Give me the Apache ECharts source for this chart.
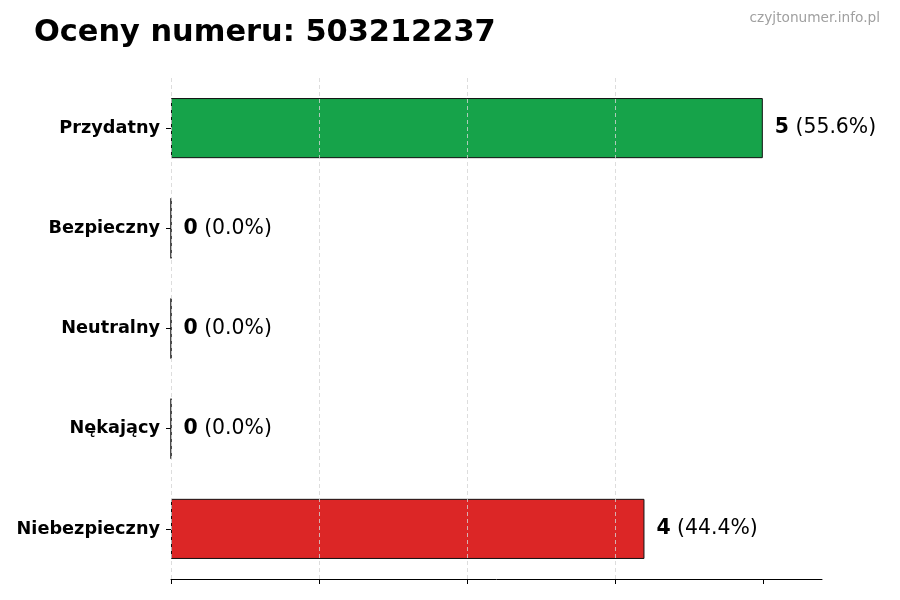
<!DOCTYPE html>
<html>
<head>
<meta charset="utf-8">
<script src="https://cdn.jsdelivr.net/npm/echarts@6/dist/echarts.min.js"></script>
<style>
  html, body { margin: 0; padding: 0; background: #fff; }
  #main { width: 900px; height: 600px; }
</style>
</head>
<body>
<div id="main"></div>
<script>
// dane wykresu
var categories = ['Przydatny', 'Bezpieczny', 'Neutralny', 'Nękający', 'Niebezpieczny'];
var counts = [5, 0, 0, 0, 4];
var percents = ['55.6%', '0.0%', '0.0%', '0.0%', '44.4%'];
var barColors = ['#16a34a', '#16a34a', '#6b7280', '#dc2626', '#dc2626'];
var xTicks = [0, 1.25, 2.5, 3.75, 5];

var chart = echarts.init(document.getElementById('main'));

var barData = counts.map(function (v, i) {
  return {
    value: v,
    itemStyle: { color: barColors[i] }
  };
});

var option = {
  backgroundColor: '#fff',
  textStyle: { fontFamily: 'DejaVu Sans' },
  title: [
    {
      text: 'Oceny numeru: 503212237',
      left: 29,
      top: 13,
      textStyle: { fontSize: 30.4, fontWeight: 'bold', color: '#000', fontFamily: 'DejaVu Sans' }
    },
    {
      text: 'czyjtonumer.info.pl',
      right: 15,
      top: 6,
      textStyle: { fontSize: 13.7, fontWeight: 'normal', color: '#a0a0a0', fontFamily: 'DejaVu Sans' }
    }
  ],
  grid: {
    left: 171,
    right: 78,
    top: 78,
    bottom: 21
  },
  xAxis: {
    type: 'value',
    min: 0,
    max: 5.5,
    interval: 1.25,
    z: 5,
    axisLine: { show: true, lineStyle: { color: '#000', width: 1 } },
    axisTick: { show: true, length: 5, customValues: xTicks, lineStyle: { color: '#000' } },
    axisLabel: { show: false },
    splitLine: {
      show: true,
      showMaxLine: false,
      lineStyle: { type: [4, 3], color: '#d4d4d4', width: 0.8 }
    }
  },
  yAxis: {
    type: 'category',
    inverse: true,
    data: categories,
    axisLine: { show: false },
    axisTick: { show: true, alignWithLabel: true, length: 5, lineStyle: { color: '#000' } },
    axisLabel: {
      fontSize: 17.7,
      fontWeight: 'bold',
      color: '#000',
      margin: 11,
      fontFamily: 'DejaVu Sans'
    }
  },
  series: [
    {
      type: 'bar',
      data: barData,
      barWidth: '60%',
      itemStyle: { borderColor: '#111', borderWidth: 1 },
      label: {
        show: true,
        position: 'right',
        distance: 12,
        formatter: function (p) {
          return '{b|' + counts[p.dataIndex] + '}{n| (' + percents[p.dataIndex] + ')}';
        },
        rich: {
          b: { fontSize: 20.4, fontWeight: 'bold', color: '#000', fontFamily: 'DejaVu Sans' },
          n: { fontSize: 20.4, color: '#000', fontFamily: 'DejaVu Sans' }
        }
      },
      animation: false
    }
  ]
};

chart.setOption(option);
</script>
</body>
</html>
